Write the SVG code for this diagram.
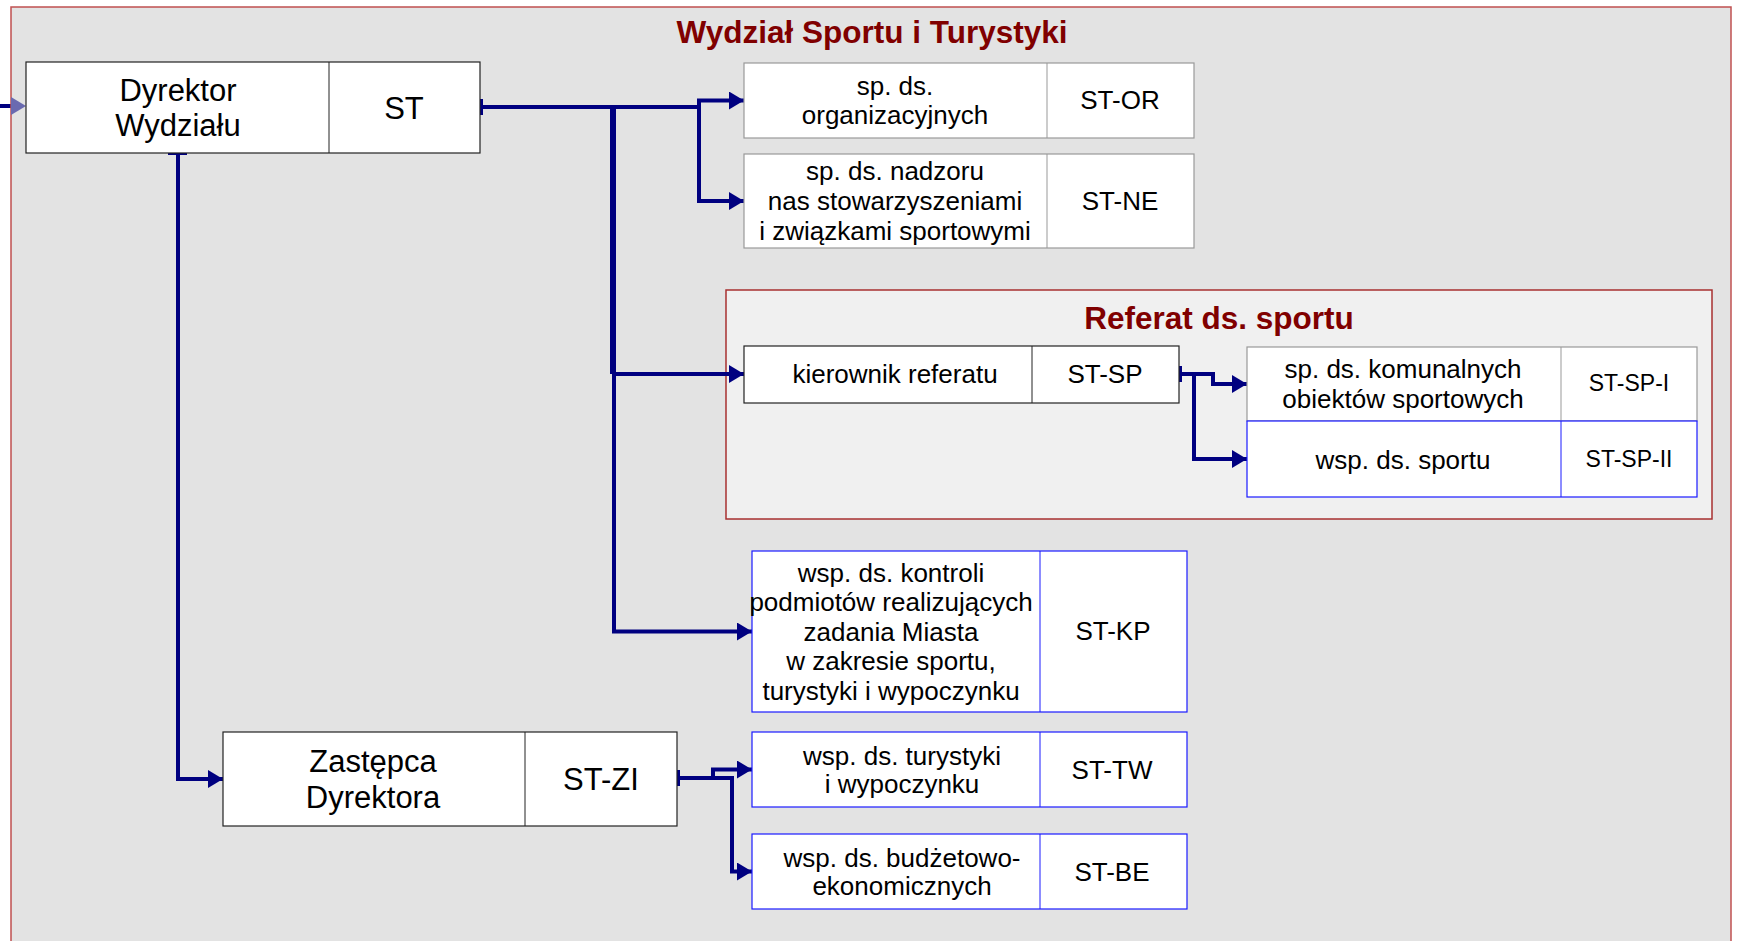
<svg xmlns="http://www.w3.org/2000/svg" width="1742" height="941" viewBox="0 0 1742 941">
<defs>
<marker id="arr" viewBox="0 0 15 18" refX="15" refY="9" markerWidth="15" markerHeight="18" markerUnits="userSpaceOnUse" orient="auto">
<path d="M0,0 L15,9 L0,18 Z" fill="#000080"/>
</marker>
<style>
text{font-family:"Liberation Sans",Arial,sans-serif;fill:#000;text-anchor:middle}
.t{font-size:26px}
.tl{font-size:31px}
.ts{font-size:23px}
.title{font-size:31.5px;font-weight:bold;fill:#800000}
.box{fill:#fff;stroke-width:1.2}
.k{stroke:#222}
.g{stroke:#999}
.b{stroke:#1a1aff}
.c{fill:none;stroke:#000080;stroke-width:4}
.tick{stroke:#000080;stroke-width:4}
</style>
</defs>
<rect width="1742" height="941" fill="#ffffff"/>
<line x1="0" y1="106" x2="12" y2="106" stroke="#000080" stroke-width="4"/>
<rect x="11" y="7" width="1720" height="950" fill="#e3e3e3" stroke="#c05050" stroke-width="1.5"/>
<path d="M11,97 L26,106 L11,115 Z" fill="#6a6ab0"/>
<text class="title" x="872" y="43">Wydział Sportu i Turystyki</text>
<g id="referat">
<rect x="726" y="290" width="986" height="229" fill="#f0f0f0" stroke="#a83030" stroke-width="1.5"/>
<text class="title" x="1219" y="329">Referat ds. sportu</text>
</g>
<g id="connectors">
<line class="tick" x1="481" y1="99" x2="481" y2="115"/>
<path class="c" d="M481,107 H699 V100.5 H744" marker-end="url(#arr)"/>
<path class="c" d="M699,107 V201 H744" marker-end="url(#arr)"/>
<line x1="613" y1="107" x2="613" y2="374" stroke="#000080" stroke-width="6"/>
<path class="c" d="M613,374 H744" marker-end="url(#arr)"/>
<path class="c" d="M614,370 V631.5 H752" marker-end="url(#arr)"/>
<line class="tick" x1="168" y1="153" x2="187" y2="153"/>
<path class="c" d="M178,153 V779 H223" marker-end="url(#arr)"/>
<line class="tick" x1="1180" y1="366" x2="1180" y2="382"/>
<path class="c" d="M1180,374 H1213 V384 H1247" marker-end="url(#arr)"/>
<path class="c" d="M1194,374 V459 H1247" marker-end="url(#arr)"/>
<line class="tick" x1="678" y1="770" x2="678" y2="786"/>
<path class="c" d="M678,778 H732 V871.5 H752" marker-end="url(#arr)"/>
<path class="c" d="M713,778 V769.5 H752" marker-end="url(#arr)"/>
</g>
<g id="dyrektor">
<rect class="box k" x="26" y="62" width="454" height="91"/>
<line class="k" x1="329" y1="62" x2="329" y2="153"/>
<text class="tl" x="178" y="101">Dyrektor</text>
<text class="tl" x="178" y="136">Wydziału</text>
<text class="tl" x="404" y="119">ST</text>
</g>
<g id="st-or">
<rect class="box g" x="744" y="63" width="450" height="75"/>
<line class="g" x1="1047" y1="63" x2="1047" y2="138"/>
<text class="t" x="895" y="95">sp. ds.</text>
<text class="t" x="895" y="124">organizacyjnych</text>
<text class="t" x="1120" y="109">ST-OR</text>
</g>
<g id="st-ne">
<rect class="box g" x="744" y="154" width="450" height="94"/>
<line class="g" x1="1047" y1="154" x2="1047" y2="248"/>
<text class="t" x="895" y="180">sp. ds. nadzoru</text>
<text class="t" x="895" y="210">nas stowarzyszeniami</text>
<text class="t" x="895" y="240">i związkami sportowymi</text>
<text class="t" x="1120" y="210">ST-NE</text>
</g>
<g id="st-sp">
<rect class="box k" x="744" y="346" width="435" height="57"/>
<line class="k" x1="1032" y1="346" x2="1032" y2="403"/>
<text class="t" x="895" y="383">kierownik referatu</text>
<text class="t" x="1105" y="383">ST-SP</text>
</g>
<g id="st-sp-i">
<rect class="box g" x="1247" y="347" width="450" height="74"/>
<line class="g" x1="1561" y1="347" x2="1561" y2="421"/>
<text class="t" x="1403" y="378">sp. ds. komunalnych</text>
<text class="t" x="1403" y="408">obiektów sportowych</text>
<text class="ts" x="1629" y="391">ST-SP-I</text>
</g>
<g id="st-sp-ii">
<rect class="box b" x="1247" y="421" width="450" height="76"/>
<line class="b" x1="1561" y1="421" x2="1561" y2="497"/>
<text class="t" x="1403" y="469">wsp. ds. sportu</text>
<text class="ts" x="1629" y="467">ST-SP-II</text>
</g>
<g id="st-kp">
<rect class="box b" x="752" y="551" width="435" height="161"/>
<line class="b" x1="1040" y1="551" x2="1040" y2="712"/>
<text class="t" x="891" y="582">wsp. ds. kontroli</text>
<text class="t" x="891" y="611">podmiotów realizujących</text>
<text class="t" x="891" y="641">zadania Miasta</text>
<text class="t" x="891" y="670">w zakresie sportu,</text>
<text class="t" x="891" y="700">turystyki i wypoczynku</text>
<text class="t" x="1113" y="640">ST-KP</text>
</g>
<g id="st-zi">
<rect class="box k" x="223" y="732" width="454" height="94"/>
<line class="k" x1="525" y1="732" x2="525" y2="826"/>
<text class="tl" x="373" y="772">Zastępca</text>
<text class="tl" x="373" y="808">Dyrektora</text>
<text class="tl" x="601" y="790">ST-ZI</text>
</g>
<g id="st-tw">
<rect class="box b" x="752" y="732" width="435" height="75"/>
<line class="b" x1="1040" y1="732" x2="1040" y2="807"/>
<text class="t" x="902" y="765">wsp. ds. turystyki</text>
<text class="t" x="902" y="793">i wypoczynku</text>
<text class="t" x="1112" y="779">ST-TW</text>
</g>
<g id="st-be">
<rect class="box b" x="752" y="834" width="435" height="75"/>
<line class="b" x1="1040" y1="834" x2="1040" y2="909"/>
<text class="t" x="902" y="867">wsp. ds. budżetowo-</text>
<text class="t" x="902" y="895">ekonomicznych</text>
<text class="t" x="1112" y="881">ST-BE</text>
</g>
</svg>
